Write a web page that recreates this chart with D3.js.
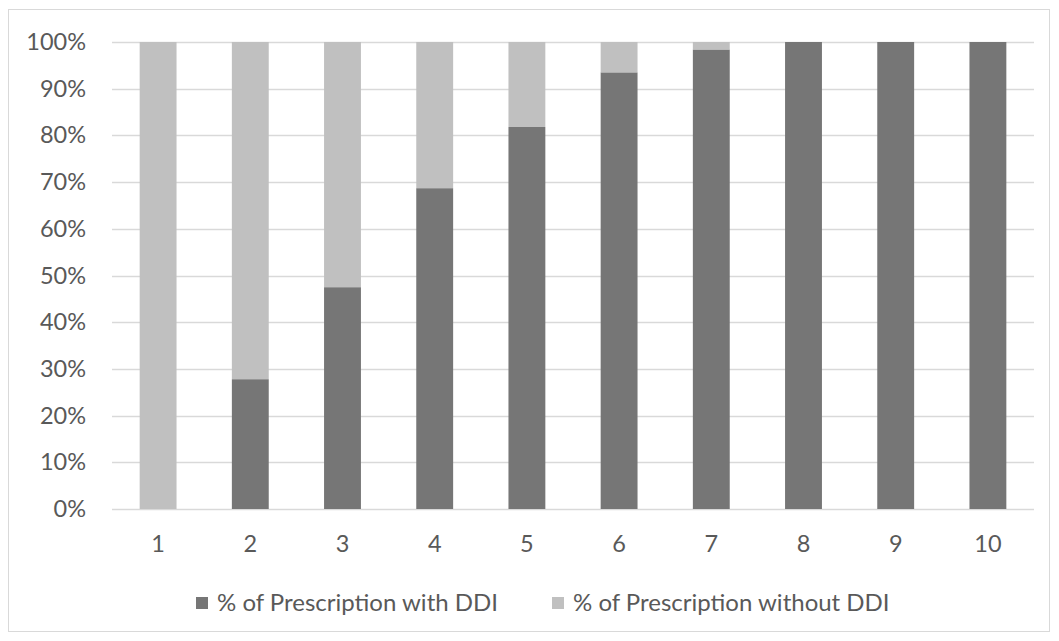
<!DOCTYPE html>
<html>
<head>
<meta charset="utf-8">
<script src="https://cdn.jsdelivr.net/npm/d3@7"></script>
<style>
  html, body { margin: 0; padding: 0; background: #fff; }
  svg { display: block; font-family: Lato, "Open Sans", sans-serif; }
</style>
</head>
<body>
<svg id="chart" width="1059" height="641"></svg>
<script>
// Number of drugs per prescription
const categories = ["1", "2", "3", "4", "5", "6", "7", "8", "9", "10"];
// Share of prescriptions with a drug-drug interaction (%)
const withDDI = [0, 27.8, 47.5, 68.7, 81.8, 93.5, 98.4, 100, 100, 100];
// Share without a drug-drug interaction (%)
const withoutDDI = withDDI.map(v => 100 - v);
const yTicks = [0, 10, 20, 30, 40, 50, 60, 70, 80, 90, 100];
const seriesNames = ["% of Prescription with DDI", "% of Prescription without DDI"];
const seriesColors = ["#767676", "#c0c0c0"];

const svg = d3.select("#chart");
const plot = { left: 112, right: 1034, top: 42, bottom: 509 };
const labelColor = "#595959";
const tickFont = "23.5px";

// outer chart frame
svg.append("rect")
  .attr("x", 8.5).attr("y", 9.5)
  .attr("width", 1041).attr("height", 622)
  .attr("fill", "#fff").attr("stroke", "#d9d9d9").attr("stroke-width", 1);

const x = d3.scaleBand().domain(categories).range([plot.left, plot.right]).paddingInner(0.6).paddingOuter(0.3);
const y = d3.scaleLinear().domain([0, 100]).range([plot.bottom, plot.top]);

// gridlines
svg.append("g").selectAll("line").data(yTicks).join("line")
  .attr("x1", plot.left).attr("x2", plot.right)
  .attr("y1", d => Math.round(y(d)) + 0.5).attr("y2", d => Math.round(y(d)) + 0.5)
  .attr("stroke", "#d9d9d9").attr("stroke-width", 1.5);

// y axis labels
const yAxis = d3.axisLeft(y).tickValues(yTicks).tickFormat(d => d + "%").tickSize(0).tickPadding(0);
const gy = svg.append("g").attr("transform", "translate(86,0)").call(yAxis);
gy.select(".domain").remove();
gy.selectAll("text").attr("fill", labelColor).style("font-size", tickFont).style("font-family", "Lato, sans-serif");

// x axis labels
const xAxis = d3.axisBottom(x).tickSize(0).tickPadding(0);
const gx = svg.append("g").attr("transform", `translate(0,${plot.bottom + 26})`).call(xAxis);
gx.select(".domain").remove();
gx.selectAll("text").attr("fill", labelColor).style("font-size", tickFont).style("font-family", "Lato, sans-serif");

// stacked bars
const rows = categories.map((c, i) => ({ cat: c, a: withDDI[i], b: withoutDDI[i] }));
const stack = d3.stack().keys(["a", "b"])(rows);
svg.append("g").selectAll("g").data(stack).join("g")
  .attr("fill", (d, i) => seriesColors[i])
  .selectAll("rect").data(d => d).join("rect")
  .attr("x", d => x(d.data.cat))
  .attr("width", x.bandwidth())
  .attr("y", d => y(d[1]))
  .attr("height", d => y(d[0]) - y(d[1]));

// legend
const legend = svg.append("g").attr("transform", "translate(0,603)");
const legendX = [196, 552];
seriesNames.forEach((name, i) => {
  const g = legend.append("g").attr("transform", `translate(${legendX[i]},0)`);
  g.append("rect").attr("x", 0).attr("y", -6).attr("width", 12).attr("height", 12).attr("fill", seriesColors[i]);
  g.append("text").attr("x", 21).attr("y", 0).attr("dy", "0.35em")
    .attr("fill", labelColor).style("font-size", "24px").text(name);
});
</script>
</body>
</html>
